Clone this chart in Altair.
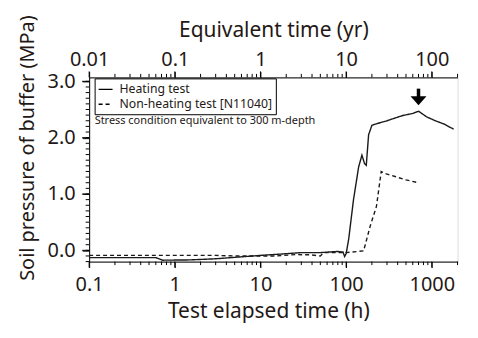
import altair as alt
import pandas as pd

# ---------------- data ----------------
series_names = ["Heating test", "Non-heating test [N11040]"]

heat_h = [0.1, 0.6, 0.72, 1.5, 3, 10, 20, 30, 50, 80, 92, 96, 100, 107, 122,
          140, 153, 164, 172, 183, 200, 230, 300, 450, 600, 700, 870, 1100,
          1400, 1800]
heat_p = [-0.13, -0.13, -0.175, -0.17, -0.15, -0.09, -0.06, -0.04, -0.04,
          -0.02, -0.03, -0.11, -0.06, 0.19, 0.90, 1.48, 1.69, 1.54, 1.51,
          2.05, 2.22, 2.25, 2.30, 2.39, 2.43, 2.47, 2.37, 2.30, 2.24, 2.15]

non_h = [0.1, 3, 5, 15, 26, 38, 50, 55, 100, 160, 191, 226, 257, 290, 373,
         500, 700]
non_p = [-0.09, -0.09, -0.10, -0.10, -0.075, -0.08, -0.10, -0.04, -0.04,
         -0.01, 0.43, 0.78, 1.40, 1.36, 1.31, 1.25, 1.20]

arrow_h = [700]
arrow_top = [2.87]
arrow_shaft_end = [2.70]
arrow_head = [2.655]

x_major = [0.1, 1, 10, 100, 1000]
y_major = [0, 1, 2, 3]
note_text = "Stress condition equivalent to 300 m-depth"

# ---------------- ticks ----------------
x_minor = [round(m * 10 ** e, 6) for e in range(-1, 4) for m in range(2, 10)
           if m * 10 ** e <= 2000]
y_minor = [round(-0.2 + 0.1 * i, 1) for i in range(33)]

FONT = "Noto Sans"
TXT = "#231815"
W, H = 370, 185

common_axis = dict(
    grid=False, domainColor="black", tickColor="black", labelColor=TXT,
    titleColor=TXT, labelFont=FONT, titleFont=FONT, labelFontSize=20,
    titleFontWeight="normal", labelOverlap=False,
    labelFlush=False,
)

bottom_axis = alt.Axis(
    orient="bottom", values=x_major, format="~g",
    tickSize=6, labelPadding=7,
    title="Test elapsed time (h)", titleFontSize=21,
    titlePadding=6, titleX=180, **common_axis,
)
top_axis = alt.Axis(
    orient="top", values=x_major,
    labelExpr="format(datum.value/10, '~g')",
    tickSize=6, labelPadding=2,
    title="Equivalent time (yr)", titleFontSize=21,
    titlePadding=9, **common_axis,
)
left_axis = alt.Axis(
    orient="left", values=y_major, format=".1f",
    tickSize=7, labelPadding=7,
    title="Soil pressure of buffer (MPa)", titleFontSize=20,
    titleX=-61.5, titleY=70.5, titleAngle=270, titleAlign="center",
    titleBaseline="middle", **common_axis,
)

xscale = alt.Scale(type="log", domain=[0.1, 2000], nice=False)
yscale = alt.Scale(domain=[-0.2, 3.07], nice=False, zero=False)

df = pd.DataFrame({
    "h": heat_h + non_h,
    "p": heat_p + non_p,
    "series": [series_names[0]] * len(heat_h) + [series_names[1]] * len(non_h),
})

X = lambda f: alt.X(f, scale=xscale, axis=bottom_axis)
Y = lambda f: alt.Y(f, scale=yscale, axis=left_axis)

lines = alt.Chart(df).mark_line(color="#1a1a1a", strokeWidth=1.4).encode(
    x=X("h:Q"),
    y=Y("p:Q"),
    strokeDash=alt.StrokeDash(
        "series:N",
        scale=alt.Scale(domain=series_names, range=[[1, 0], [4, 3]]),
        legend=alt.Legend(
            title=None, orient="none", legendX=5.5, legendY=1,
            strokeColor="black", padding=3,
            symbolType="stroke", symbolSize=196, symbolStrokeWidth=1.4,
            symbolStrokeColor="black", labelFont=FONT, labelFontSize=12.3,
            labelColor=TXT, labelOffset=6, rowPadding=0, cornerRadius=0,
        ),
    ),
)

# ---------------- tick marks (through the scales) ----------------
xmaj_df = pd.DataFrame({"h": x_major})
xmin_df = pd.DataFrame({"h": x_minor})
ymaj_df = pd.DataFrame({"p": y_major})
ymin_df = pd.DataFrame({"p": y_minor})

def xticks(data, y0, y1):
    return alt.Chart(data).mark_rule(color="black", strokeWidth=1).encode(
        x=X("h:Q"), y=alt.value(y0), y2=alt.value(y1))

def yticks(data, x0, x1):
    return alt.Chart(data).mark_rule(color="black", strokeWidth=1).encode(
        y=Y("p:Q"), x=alt.value(x0), x2=alt.value(x1))

tick_layers = [
    xticks(xmaj_df, H, H + 6), xticks(xmin_df, H, H + 3.5),
    xticks(xmaj_df, 0, -6), xticks(xmin_df, 0, -3.5),
    yticks(ymaj_df, 0, -7), yticks(ymin_df, 0, -3.5),
]

# ---------------- arrow ----------------
arrow_df = pd.DataFrame({"h": arrow_h, "p": arrow_top, "p2": arrow_shaft_end,
                         "ph": arrow_head})
shaft = alt.Chart(arrow_df).mark_rule(color="black", strokeWidth=3.5).encode(
    x=X("h:Q"), y=Y("p:Q"), y2="p2:Q",
)
head = alt.Chart(arrow_df).mark_point(
    shape="M-1,-0.56L1,-0.56L0,0.56Z", size=256, filled=True, color="black",
    opacity=1,
).encode(x=X("h:Q"), y=Y("ph:Q"))

note = alt.Chart(pd.DataFrame({"t": [note_text]})).mark_text(
    align="left", baseline="middle", font=FONT, fontSize=11, color=TXT,
).encode(x=alt.value(5.5), y=alt.value(44), text="t:N")

inner = alt.layer(lines, *tick_layers, shaft, head, note)

top_layer = alt.Chart(xmaj_df).mark_point(opacity=0).encode(
    x=alt.X("h:Q", scale=xscale, axis=top_axis),
)

chart = alt.layer(inner, top_layer).resolve_axis(x="independent").properties(
    width=W, height=H,
    autosize=alt.AutoSizeParams(type="none"),
    padding={"left": 81.5, "top": 69, "right": 12.5, "bottom": 67},
    background="white",
).configure_view(stroke="black", strokeWidth=1).configure(font=FONT)

chart.save("out.html", embed_options={"renderer": "svg", "actions": False})
